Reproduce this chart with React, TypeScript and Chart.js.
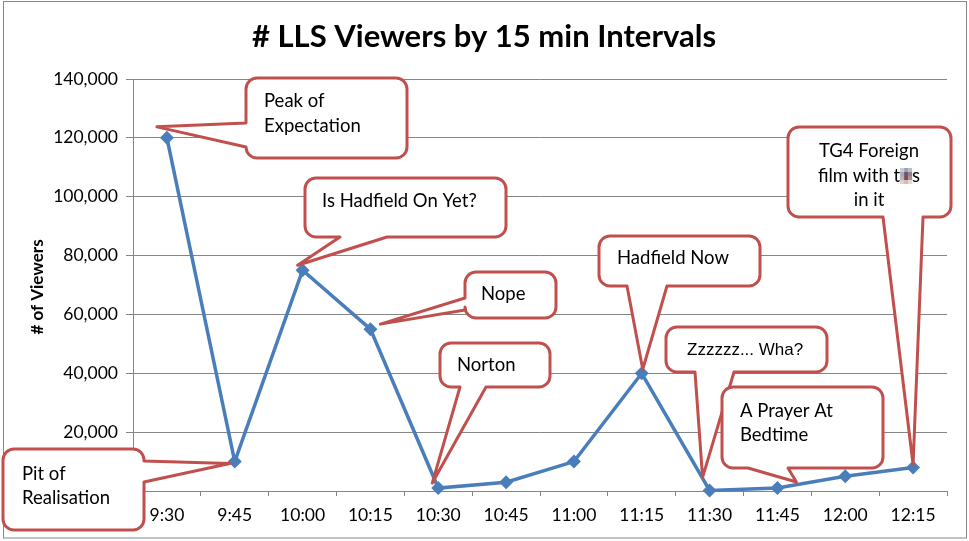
import { useEffect, useRef } from "react"
import { Chart, registerables } from "chart.js"

Chart.register(...registerables)

// chart data
const timeLabels = ["9:30", "9:45", "10:00", "10:15", "10:30", "10:45", "11:00", "11:15", "11:30", "11:45", "12:00", "12:15"]
const viewers = [120000, 10000, 75000, 55000, 1000, 3000, 10000, 40000, 200, 1000, 5000, 8000]

// annotations: which point each callout refers to, and its text
const noteIndex = [0, 1, 2, 3, 4, 7, 8, 9, 11]
const noteText = [
    ["Peak of", "Expectation"],
    ["Pit of", "Realisation"],
    ["Is Hadfield On Yet?"],
    ["Nope"],
    ["Norton"],
    ["Hadfield Now"],
    ["Zzzzzz... Wha?"],
    ["A Prayer At", "Bedtime"],
    ["TG4 Foreign", "film with t{censored}s", "in it"],
]

const chartTitle = "# LLS Viewers by 15 min Intervals"
const yTitle = "# of Viewers"

const FONT = "Lato, 'Open Sans', sans-serif"
const LINE_BLUE = "#4A7EBB"
const CALLOUT_RED = "#C0504D"
const GRID = "#868686"

// box: x, y, w, h | side the tail leaves from | base range on that side | tip offset from the point
type CalloutLayout = {
    box: [number, number, number, number]
    side: "left" | "right" | "top" | "bottom"
    base: [number, number]
    tip: [number, number]
    textX: number
    textY: number[]
    align: CanvasTextAlign
    font?: string
}

const layouts: CalloutLayout[] = [
    { box: [246, 78, 161, 80], side: "left", base: [123, 147], tip: [-10, -11], textX: 264, textY: [101, 126], align: "left" },
    { box: [3, 449, 141, 81], side: "right", base: [461, 482], tip: [-5, 2], textX: 22, textY: [474, 498], align: "left" },
    { box: [305, 178, 201, 59], side: "bottom", base: [340, 387], tip: [-5, -5], textX: 322, textY: [201], align: "left" },
    { box: [465, 272, 91, 46], side: "left", base: [298, 310], tip: [10, -5], textX: 481, textY: [294], align: "left" },
    { box: [440, 343, 110, 44], side: "bottom", base: [460, 486], tip: [-6, -5], textX: 457, textY: [365], align: "left" },
    { box: [599, 236, 161, 50], side: "bottom", base: [627, 667], tip: [1, -4], textX: 617, textY: [258], align: "left" },
    { box: [666, 327, 161, 45], side: "bottom", base: [695, 734], tip: [-7, -13], textX: 687, textY: [350], align: "left", font: "17px 'Liberation Sans', Arial, sans-serif" },
    { box: [722, 387, 161, 81], side: "bottom", base: [748, 788], tip: [19, -6], textX: 740, textY: [411, 435], align: "left" },
    { box: [788, 127, 163, 90], side: "bottom", base: [883, 923], tip: [0, -3], textX: 869, textY: [151, 176, 200], align: "center" },
]

const mosaic = [
    ["#c9ccd4", "#9aa3b3", "#b8bcc6"],
    ["#a3aabb", "#6e5560", "#8d7f8c"],
    ["#b0b4c2", "#7a4f55", "#a88f95"],
    ["#e0d0d0", "#d8b8b8", "#e6d8d6"],
]

function calloutPath(ctx: CanvasRenderingContext2D, l: CalloutLayout, tx: number, ty: number) {
    const [x, y, w, h] = l.box
    const r = 11
    const [b1, b2] = l.base
    ctx.beginPath()
    ctx.moveTo(x + r, y)
    if (l.side === "top") {
        ctx.lineTo(b1, y)
        ctx.lineTo(tx, ty)
        ctx.lineTo(b2, y)
    }
    ctx.lineTo(x + w - r, y)
    ctx.arcTo(x + w, y, x + w, y + r, r)
    if (l.side === "right") {
        ctx.lineTo(x + w, b1)
        ctx.lineTo(tx, ty)
        ctx.lineTo(x + w, b2)
    }
    ctx.lineTo(x + w, y + h - r)
    ctx.arcTo(x + w, y + h, x + w - r, y + h, r)
    if (l.side === "bottom") {
        ctx.lineTo(b2, y + h)
        ctx.lineTo(tx, ty)
        ctx.lineTo(b1, y + h)
    }
    ctx.lineTo(x + r, y + h)
    ctx.arcTo(x, y + h, x, y + h - r, r)
    if (l.side === "left") {
        ctx.lineTo(x, b2)
        ctx.lineTo(tx, ty)
        ctx.lineTo(x, b1)
    }
    ctx.lineTo(x, y + r)
    ctx.arcTo(x, y, x + r, y, r)
    ctx.closePath()
}

function drawLine(ctx: CanvasRenderingContext2D, text: string, x: number, y: number, align: CanvasTextAlign) {
    if (!text.includes("{censored}")) {
        ctx.textAlign = align
        ctx.fillText(text, x, y)
        return
    }
    // pixelated word, drawn as a little mosaic
    const [before, after] = text.split("{censored}")
    const blockW = 4
    const blockH = 4
    const mw = blockW * mosaic[0].length
    const wb = ctx.measureText(before).width
    const wa = ctx.measureText(after).width
    const total = wb + mw + wa
    const sx = align === "center" ? x - total / 2 : x
    ctx.textAlign = "left"
    ctx.fillText(before, sx, y)
    const my = y - 8
    mosaic.forEach((row, ri) =>
        row.forEach((c, ci) => {
            ctx.fillStyle = c
            ctx.fillRect(sx + wb + ci * blockW, my + ri * blockH, blockW, blockH)
        })
    )
    ctx.fillStyle = "#000"
    ctx.fillText(after, sx + wb + mw, y)
}

const decorPlugin = {
    id: "decor",
    afterDraw(chart: Chart) {
        const ctx = chart.ctx
        const xs = chart.scales.x
        const ys = chart.scales.y
        ctx.save()

        // outer frame
        ctx.strokeStyle = GRID
        ctx.lineWidth = 1
        ctx.strokeRect(3.5, 1.5, 963, 536.5)

        // title
        ctx.fillStyle = "#000"
        ctx.font = `bold 31px ${FONT}`
        ctx.textAlign = "center"
        ctx.textBaseline = "middle"
        ctx.fillText(chartTitle, 484, 37)

        // y axis title
        ctx.save()
        ctx.translate(38, 287)
        ctx.rotate(-Math.PI / 2)
        ctx.font = `bold 17px ${FONT}`
        ctx.fillText(yTitle, 0, 0)
        ctx.restore()

        // callouts
        layouts.forEach((l, i) => {
            const idx = noteIndex[i]
            const tx = xs.getPixelForValue(idx) + l.tip[0]
            const ty = ys.getPixelForValue(viewers[idx]) + l.tip[1]
            calloutPath(ctx, l, tx, ty)
            ctx.fillStyle = "#fff"
            ctx.fill()
            ctx.strokeStyle = CALLOUT_RED
            ctx.lineWidth = 3
            ctx.lineJoin = "round"
            ctx.stroke()
            ctx.fillStyle = "#000"
            ctx.font = l.font ?? `18.5px ${FONT}`
            ctx.textBaseline = "middle"
            noteText[i].forEach((line, li) => drawLine(ctx, line, l.textX, l.textY[li], l.align))
        })
        ctx.restore()
    },
}

export default function App() {
    const chartRef = useRef<HTMLCanvasElement | null>(null)
    const chartInstance = useRef<Chart | null>(null)

    useEffect(() => {
        if (!chartRef.current) return
        if (chartInstance.current) chartInstance.current.destroy()

        const ctx = chartRef.current.getContext("2d")
        if (!ctx) return

        chartInstance.current = new Chart(ctx, {
            type: "line",
            data: {
                labels: timeLabels,
                datasets: [
                    {
                        data: viewers,
                        borderColor: LINE_BLUE,
                        borderWidth: 3.5,
                        backgroundColor: LINE_BLUE,
                        pointStyle: "rectRot",
                        pointRadius: 7,
                        pointBorderWidth: 0,
                        pointBackgroundColor: LINE_BLUE,
                        tension: 0,
                        clip: false,
                    },
                ],
            },
            options: {
                responsive: false,
                animation: false,
                layout: { padding: { top: 79, right: 22, bottom: 0, left: 0 } },
                plugins: {
                    legend: { display: false },
                    title: { display: false },
                    tooltip: { enabled: false },
                },
                scales: {
                    x: {
                        offset: true,
                        afterFit: (scale) => {
                            scale.height = 50
                        },
                        grid: { display: true, drawOnChartArea: false, offset: true, tickLength: 5, color: GRID },
                        border: { display: true, color: GRID, width: 1 },
                        ticks: { color: "#000", font: { family: FONT, size: 17.5 }, padding: 9, maxRotation: 0 },
                    },
                    y: {
                        min: 0,
                        max: 140000,
                        afterFit: (scale) => {
                            scale.width = 133
                        },
                        grid: { color: GRID, tickLength: 7 },
                        border: { display: true, color: GRID, width: 1 },
                        ticks: {
                            stepSize: 20000,
                            color: "#000",
                            font: { family: FONT, size: 17.5 },
                            padding: 8,
                            callback: (v) => Number(v).toLocaleString("en-US"),
                        },
                    },
                },
            },
            plugins: [decorPlugin],
        })

        return () => {
            if (chartInstance.current) {
                chartInstance.current.destroy()
                chartInstance.current = null
            }
        }
    }, [])

    return (
        <div style={{ position: "absolute", left: 0, top: 0, width: 969, height: 541, background: "#fff" }}>
            <canvas ref={chartRef} width={969} height={541} />
        </div>
    )
}
